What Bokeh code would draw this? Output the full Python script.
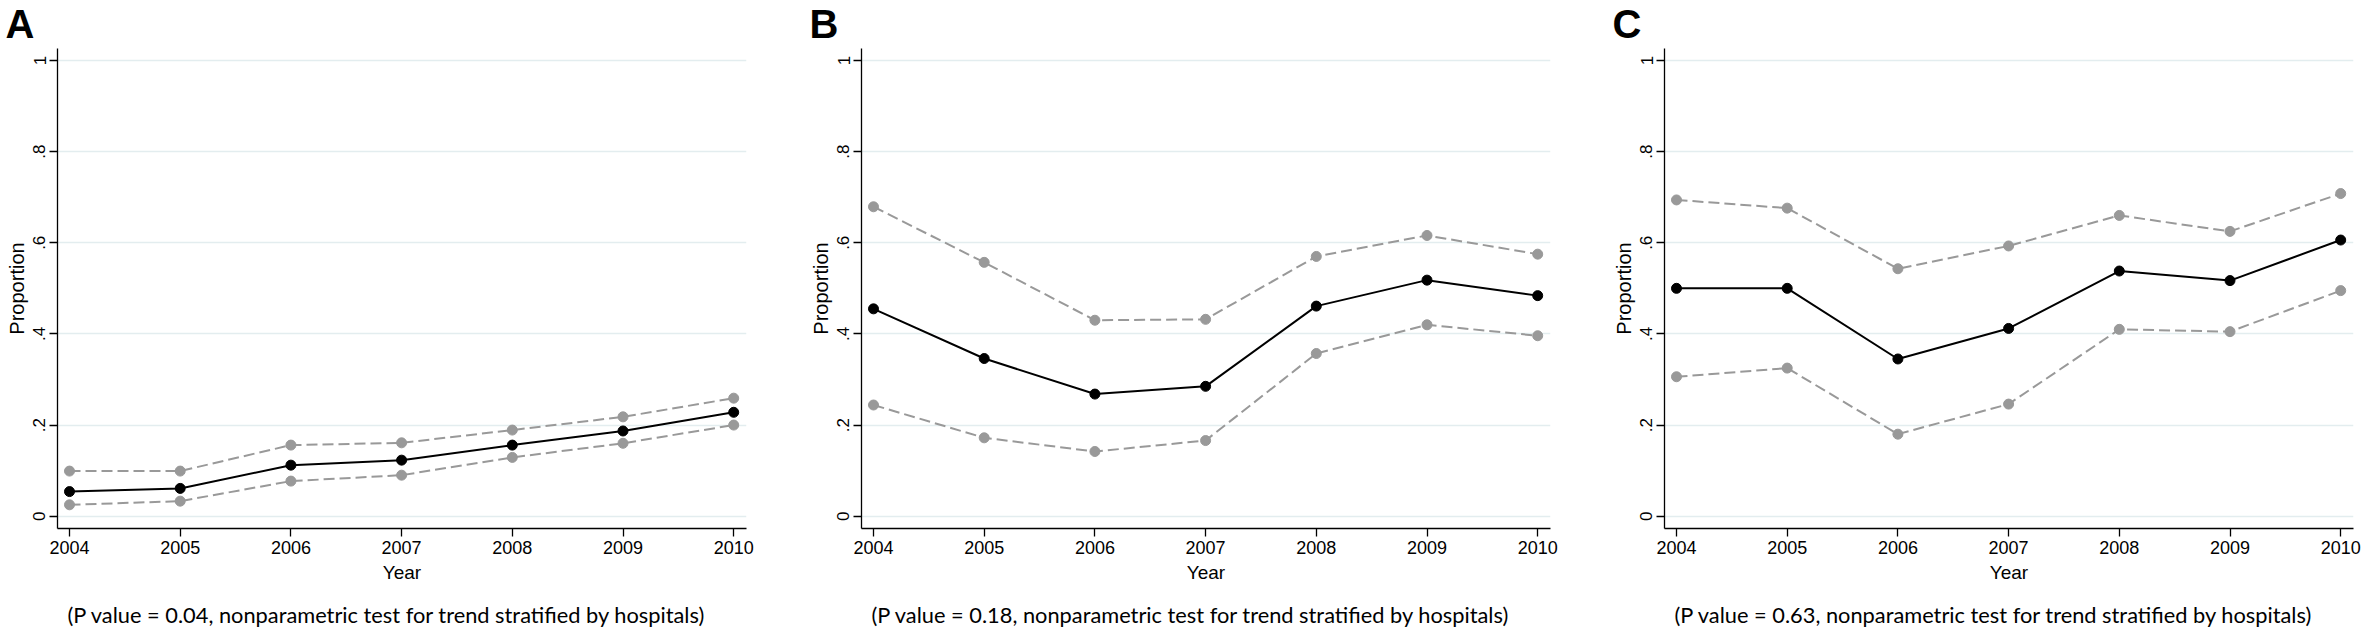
from bokeh.plotting import figure
from bokeh.layouts import row, column
from bokeh.models import FixedTicker, Range1d, ColumnDataSource
from bokeh.core.properties import value
from bokeh.embed import file_html
from bokeh.resources import INLINE

# ---------------- data ----------------
years = [2004, 2005, 2006, 2007, 2008, 2009, 2010]
panel_letters = ["A", "B", "C"]
p_values = ["0.04", "0.18", "0.63"]

a_mean = [0.054, 0.061, 0.112, 0.123, 0.156, 0.187, 0.228]
a_upper = [0.099, 0.099, 0.156, 0.161, 0.189, 0.218, 0.259]
a_lower = [0.025, 0.033, 0.077, 0.090, 0.129, 0.160, 0.200]

b_mean = [0.455, 0.346, 0.268, 0.285, 0.461, 0.518, 0.484]
b_upper = [0.679, 0.557, 0.430, 0.432, 0.570, 0.616, 0.575]
b_lower = [0.244, 0.172, 0.142, 0.166, 0.357, 0.420, 0.396]

c_mean = [0.500, 0.500, 0.345, 0.412, 0.538, 0.517, 0.606]
c_upper = [0.694, 0.676, 0.543, 0.593, 0.660, 0.625, 0.708]
c_lower = [0.306, 0.325, 0.180, 0.246, 0.410, 0.405, 0.495]

y_ticks = [0, 0.2, 0.4, 0.6, 0.8, 1]
y_tick_labels = ["0", ".2", ".4", ".6", ".8", "1"]

x_label = "Year"
y_label = "Proportion"
caption_template = "(P value = {}, nonparametric test for trend stratified by hospitals)"

# ---------------- layout / style ----------------
TOTAL_W = 2362
TOP_H = 48          # strip holding the panel letters
PANEL_H = 542       # frame 480 + x-axis border 62
BOT_H = 37          # strip holding the captions
FRAME_W = 689
FRAME_H = 480
lefts = [57, 59, 59]
widths = [802, 803, 757]
frame_left_px = [57, 861, 1664]   # frame left edges in page px
GRAY = "#999999"
AXIS_FONT = "Liberation Sans"


def make_panel(mean, lower, upper, left, width):
    p = figure(width=width, height=PANEL_H, output_backend="svg", toolbar_location=None,
               title=None,
               x_range=Range1d(2003.8916, 2010.1156), y_range=Range1d(-0.027, 1.0263),
               min_border_left=left, min_border_right=width - left - FRAME_W,
               min_border_top=0, min_border_bottom=PANEL_H - FRAME_H,
               background_fill_color="white", border_fill_color="white")
    p.outline_line_color = None

    p.xaxis.ticker = FixedTicker(ticks=years)
    p.yaxis.ticker = FixedTicker(ticks=y_ticks)
    p.yaxis.major_label_overrides = {t: l for t, l in zip(y_ticks, y_tick_labels)}

    for ax in (p.xaxis, p.yaxis):
        ax.axis_line_color = "black"
        ax.axis_line_width = 1.3
        ax.major_tick_out = 8
        ax.major_tick_in = 0
        ax.major_tick_line_color = "black"
        ax.major_tick_line_width = 1.3
        ax.minor_tick_line_color = None
        ax.major_label_text_font = AXIS_FONT
        ax.major_label_text_color = "black"
        ax.major_label_standoff = 4
        ax.axis_label_text_font = AXIS_FONT
        ax.axis_label_text_font_style = "normal"
        ax.axis_label_text_color = "black"
    p.xaxis.major_label_text_font_size = "18px"
    p.yaxis.major_label_text_font_size = "17px"
    p.yaxis.major_label_orientation = "vertical"

    p.xaxis.axis_label = x_label
    p.xaxis.axis_label_text_font_size = "19px"
    p.xaxis.axis_label_standoff = 5
    p.yaxis.axis_label = y_label
    p.yaxis.axis_label_text_font_size = "20px"
    p.yaxis.axis_label_standoff = 3

    p.xgrid.grid_line_color = None
    p.ygrid.grid_line_color = "#e3edef"
    p.ygrid.grid_line_width = 1.5

    src = ColumnDataSource(dict(year=years, mean=mean, lower=lower, upper=upper))
    for col in ("upper", "lower"):
        p.line("year", col, source=src, line_color=GRAY, line_width=2, line_dash="11 5")
        p.scatter("year", col, source=src, size=10, fill_color=GRAY, line_color=GRAY)
    p.line("year", "mean", source=src, line_color="black", line_width=2)
    p.scatter("year", "mean", source=src, size=10, fill_color="black", line_color="black")
    return p


def make_strip(height):
    s = figure(width=TOTAL_W, height=height, output_backend="svg", toolbar_location=None,
               title=None, x_range=Range1d(0, TOTAL_W), y_range=Range1d(0, height),
               min_border=0, min_border_left=0, min_border_right=0,
               min_border_top=0, min_border_bottom=0,
               x_axis_location=None, y_axis_location=None,
               background_fill_color="white", border_fill_color="white")
    s.outline_line_color = None
    s.xgrid.grid_line_color = None
    s.ygrid.grid_line_color = None
    return s


# letters strip
top = make_strip(TOP_H)
letter_src = ColumnDataSource(dict(
    x=[fl - 52 for fl in frame_left_px],
    y=[25] * 3,
    text=panel_letters))
top.text("x", "y", text="text", source=letter_src, text_font=value(AXIS_FONT),
         text_font_size="40px", text_font_style="bold", text_color="black",
         text_align="left", text_baseline="middle")

# panels
series = [(a_mean, a_lower, a_upper), (b_mean, b_lower, b_upper), (c_mean, c_lower, c_upper)]
figs = []
for i in range(3):
    m, lo, up = series[i]
    figs.append(make_panel(m, lo, up, lefts[i], widths[i]))

# captions strip
bot = make_strip(BOT_H)
cap_src = ColumnDataSource(dict(
    x=[fl + 10 for fl in frame_left_px],
    y=[13.5] * 3,
    text=[caption_template.format(pv) for pv in p_values]))
bot.text("x", "y", text="text", source=cap_src, text_font=value("Lato"),
         text_font_size="21.8px", text_color="black",
         text_align="left", text_baseline="middle")

layout = column(top, row(*figs), bot)
open("out.html", "w").write(file_html(layout, INLINE))
